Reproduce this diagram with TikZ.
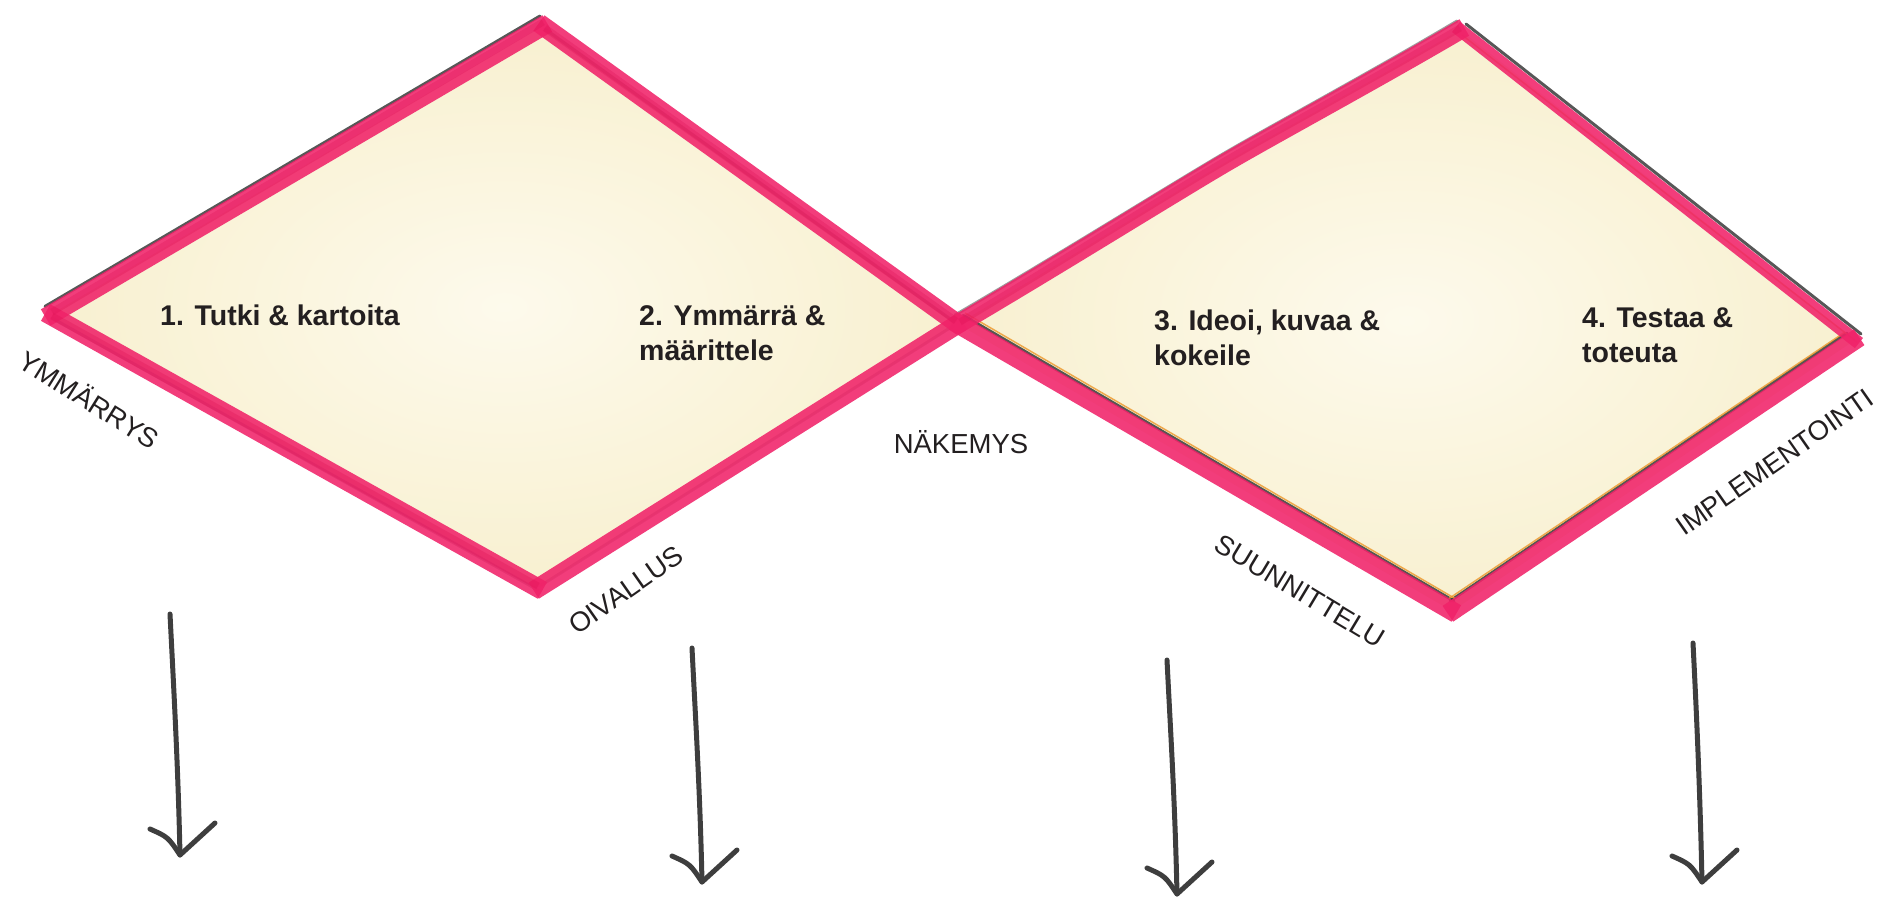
\documentclass[tikz,border=0pt]{standalone}
\usepackage{fontspec}
\setmainfont{Liberation Sans}
\usetikzlibrary{calc}

\definecolor{marker}{RGB}{240,34,105}
\definecolor{markerdeep}{RGB}{222,16,84}
\definecolor{pencil}{RGB}{58,58,58}
\definecolor{ochre}{RGB}{236,150,40}
\definecolor{creamlight}{RGB}{253,250,236}
\definecolor{creamdark}{RGB}{248,240,208}
\definecolor{inktext}{RGB}{35,31,32}
\definecolor{arrowgray}{RGB}{62,62,62}

\tikzset{
  paper/.style={inner color=creamlight, outer color=creamdark},
  markerline/.style={draw=marker, line width=19pt, opacity=0.88, line cap=butt,
                     shorten <=-5pt, shorten >=-5pt},
  markercore/.style={draw=markerdeep, line width=7pt, opacity=0.3, line cap=butt},
  pencilline/.style={draw=pencil, line width=3pt, opacity=0.85, line cap=round},
  ochreline/.style={draw=ochre, line width=1.5pt, opacity=0.8},
  steplabel/.style={font=\bfseries\fontsize{28.5}{35}\selectfont,
                    text=inktext, inner sep=0pt},
  sidelabel/.style={font=\fontsize{27.5}{33}\selectfont,
                    text=inktext, inner sep=0pt},
  arrowline/.style={draw=arrowgray, line width=5pt, line cap=round, line join=round},
}

\begin{document}
\begin{tikzpicture}[x=1pt,y=-1pt]
\useasboundingbox (0,0) rectangle (1885,900);

% corner points of the two diamonds
\coordinate (L1) at (50,315);
\coordinate (T1) at (543,26);
\coordinate (C)  at (958,324);
\coordinate (B1) at (538,588);
\coordinate (T2) at (1460,30);
\coordinate (R2) at (1855,340);
\coordinate (B2) at (1452,611);
\coordinate (W)  at (1230,160);

% watercolour paper fills
\shade[paper] (L1) -- (T1) -- (C) -- (B1) -- cycle;
\shade[paper] (C) .. controls (1060,264) and (1180,189) .. (W)
              .. controls (1280,131) and (1380,77) .. (T2) -- (R2) -- (B2) -- cycle;

% pencil under-drawing
\draw[pencilline] ($(L1)+(-5,-8.6)$) -- ($(T1)+(-3,-10)$);
\draw[pencilline, opacity=0.45] ($(L1)+(2,3)$) -- ($(B1)+(0,2)$);
\draw[pencilline, opacity=0.45] ($(T1)+(2,3)$) -- ($(C)+(-5,-3)$);
\draw[pencilline, opacity=0.35] ($(B1)+(2,-2)$) -- ($(C)+(-5,2)$);
\draw[pencilline, opacity=0.5] ($(C)+(-3,-9)$) .. controls (1058,255) and (1178,180) .. ($(W)+(-2,-9)$)
     .. controls (1278,122) and (1378,68) .. ($(T2)+(-3,-9)$);
\draw[pencilline] ($(T2)+(6,-6)$) -- ($(R2)+(6,-6)$);
\draw[pencilline] ($(C)+(5,-8.7)$) -- ($(B2)+(2,-10)$);
\draw[pencilline] ($(B2)+(-2,-10)$) -- ($(R2)+(-8,-7)$);
\draw[ochreline] ($(C)+(7,-11)$) -- ($(B2)+(3,-12.5)$);
\draw[ochreline] ($(B2)+(-3,-12.5)$) -- ($(R2)+(-10,-8)$);
\draw[ochreline] ($(T2)+(2,5)$) -- ($(R2)+(2,2)$);

% marker outlines, one stroke per side
\draw[markerline] (L1) -- (T1);
\draw[markerline] (T1) -- (C);
\draw[markerline] (C) -- (B1);
\draw[markerline] (B1) -- (L1);
\draw[markerline] (C) .. controls (1060,264) and (1180,189) .. (W)
                      .. controls (1280,131) and (1380,77) .. (T2);
\draw[markerline, line width=13pt] (T2) -- (R2);
\draw[markerline] (R2) -- (B2);
\draw[markerline] (B2) -- (C);

\draw[markercore] ($(L1)+(2,-3)$) -- ($(T1)+(0,-4)$);
\draw[markercore] ($(T1)+(2,2)$) -- ($(C)+(-2,-3)$);
\draw[markercore] ($(C)+(2,-2)$) .. controls (1060,262) and (1180,187) .. ($(W)+(0,-2)$)
                  .. controls (1280,129) and (1380,75) .. ($(T2)+(0,-2)$);
\draw[markercore] ($(B1)+(0,-2)$) -- ($(L1)+(2,1)$);

% step titles
\node[steplabel, anchor=base west] (s1) at (160,325) {1. Tutki \& kartoita};
\node[steplabel, anchor=base west] (s2) at (639,325)
  {\begin{tabular}[t]{@{}l@{}}2. Ymmärrä \&\\määrittele\end{tabular}};
\node[steplabel, anchor=base west] (s3) at (1154,330)
  {\begin{tabular}[t]{@{}l@{}}3. Ideoi, kuvaa \&\\kokeile\end{tabular}};
\node[steplabel, anchor=base west] (s4) at (1582,327)
  {\begin{tabular}[t]{@{}l@{}}4. Testaa \&\\toteuta\end{tabular}};

% milestone labels along the diamonds
\node[sidelabel, rotate=-32] (ymm) at (90,399) {YMMÄRRYS};
\node[sidelabel, rotate=35]  (oiv) at (626,590) {OIVALLUS};
\node[sidelabel]             (nak) at (961,442) {NÄKEMYS};
\node[sidelabel, rotate=-31] (suu) at (1300,591) {SUUNNITTELU};
\node[sidelabel, rotate=35]  (imp) at (1775,462) {IMPLEMENTOINTI};

% hand-drawn downward arrows
\coordinate (a1s) at (170,614);  \coordinate (a1e) at (180,855);
\coordinate (a2s) at (692,648);  \coordinate (a2e) at (702,882);
\coordinate (a3s) at (1167,660); \coordinate (a3e) at (1177,894);
\coordinate (a4s) at (1693,643); \coordinate (a4e) at (1702,882);

\foreach \a in {a1,a2,a3,a4}{
  \draw[arrowline] (\a s) .. controls ($(\a s)+(4,80)$) and ($(\a e)+(-2,-90)$) .. (\a e);
  \draw[arrowline] ($(\a e)+(-30,-26)$) .. controls ($(\a e)+(-12,-18)$) .. (\a e)
                   -- ($(\a e)+(35,-32)$);
}
\end{tikzpicture}
\end{document}
